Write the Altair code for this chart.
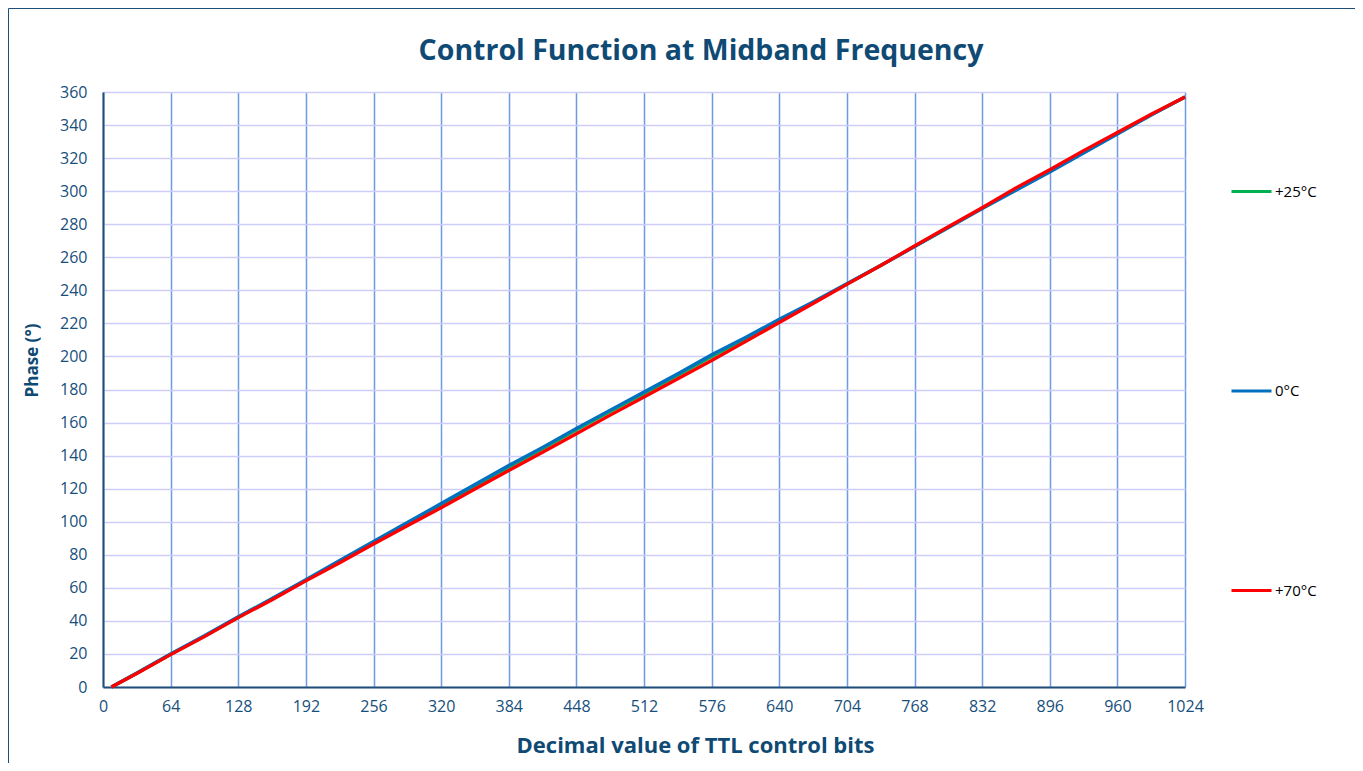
import altair as alt
import pandas as pd

# ---- data ----
bits = [8, 32, 64, 96, 128, 160, 192, 224, 256, 288, 320, 352, 384, 416, 448, 480,
        512, 544, 576, 608, 640, 672, 704, 736, 768, 800, 832, 864, 896, 928, 960, 992, 1024]
phase_0C = [0, 8.5, 20, 31, 42.5, 53.5, 65, 76.5, 88, 99.5, 111, 122.5, 134, 145, 156.5, 167.5,
            178.5, 189.5, 201, 211.5, 222.5, 233, 244, 255, 266.5, 278, 289.5, 300.5, 311.5, 323, 334.5, 346, 357]
phase_25C = [0, 8.3, 19.8, 30.7, 42.2, 53.2, 64.7, 76, 87.5, 98.8, 110.2, 121.6, 133, 144.1, 155.6, 166.6,
             177.6, 188.6, 200, 210.6, 221.8, 232.6, 243.8, 255, 266.5, 278, 289.6, 300.8, 312, 323.4, 334.8, 346.2, 357]
phase_70C = [0, 8.2, 19.6, 30.5, 42, 52.8, 64.2, 75.2, 86.5, 97.6, 108.5, 119.8, 131, 142, 153.2, 164.5,
             175.5, 186.5, 197.5, 209, 220.5, 232, 243.6, 255, 266.8, 278.5, 290, 302, 313, 324.5, 335.5, 346.5, 357]

series_names = ["+25°C", "0°C", "+70°C"]
series_colors = ["#00B050", "#0070C0", "#FF0000"]
x_ticks = list(range(0, 1025, 64))
y_ticks = list(range(0, 361, 20))

rows = []
for name, vals in zip(series_names, [phase_25C, phase_0C, phase_70C]):
    for b, v in zip(bits, vals):
        rows.append({"bits": b, "phase": v, "series": name})
df = pd.DataFrame(rows)

FONT = "Open Sans"
TXT = "#174f7c"

x_enc = alt.X("bits:Q", scale=alt.Scale(domain=[0, 1024], nice=False),
              axis=alt.Axis(values=x_ticks, format="d", title="Decimal value of TTL control bits",
                            grid=True, gridColor="#6c9de0", gridWidth=1.5, labelFlush=False,
                            ticks=False, tickSize=0, domainColor="#1f4e79", domainWidth=2,
                            labelFont=FONT, labelFontSize=16, labelColor=TXT, labelPadding=11,
                            titleFont=FONT, titleFontSize=22, titleFontWeight="bold", titleColor="#0f4a74",
                            titleX=592, titleY=58, titleBaseline="middle", titleAnchor="start", titleAlign="center"))
y_enc = alt.Y("phase:Q", scale=alt.Scale(domain=[0, 360], nice=False),
              axis=alt.Axis(values=y_ticks, title="Phase (°)",
                            grid=True, gridColor="#cdcdfa", gridWidth=1.5, labelFlush=False,
                            ticks=False, tickSize=0, domainColor="#1f4e79", domainWidth=2,
                            labelFont=FONT, labelFontSize=16, labelColor=TXT, labelPadding=16,
                            titleFont=FONT, titleFontSize=17, titleFontWeight="bold", titleColor="#0f4a74",
                            titleX=-71, titleY=268, titleBaseline="middle", titleAlign="center", titleAngle=270))
color_enc = alt.Color("series:N", scale=alt.Scale(domain=series_names, range=series_colors),
                      legend=alt.Legend(title=None, orient="none", legendX=1127, legendY=78,
                                        direction="vertical", symbolType="stroke", symbolStrokeWidth=3,
                                        symbolSize=1600, rowPadding=169.5, labelFont=FONT, labelFontSize=15,
                                        labelColor="black", labelOffset=2))

base = alt.Chart(df).mark_line(strokeWidth=3.3).encode(x=x_enc, y=y_enc, color=color_enc)
layers = [base.transform_filter(alt.datum.series == n) for n in series_names]

border = alt.Chart(pd.DataFrame({"k": [0]})).mark_rect(
    fillOpacity=0, stroke="#1f4e79", strokeWidth=1
).encode(x=alt.value(-94.5), x2=alt.value(3000), y=alt.value(-83.5), y2=alt.value(3000))

chart = alt.layer(border, *layers).properties(
    width=1082, height=595,
    title=alt.Title("Control Function at Midband Frequency", font=FONT, fontSize=28.5,
                    fontWeight="bold", color="#0f4a74", anchor="middle", dx=57, dy=80,
                    baseline="alphabetic", offset=0),
    autosize=alt.AutoSizeParams(type="none"),
    padding={"left": 95, "top": 84, "right": 170, "bottom": 76},
).configure_view(stroke="#4d77a8", strokeWidth=1.5).configure(background="white")

chart.save("out.html", embed_options={"renderer": "svg", "actions": False})
